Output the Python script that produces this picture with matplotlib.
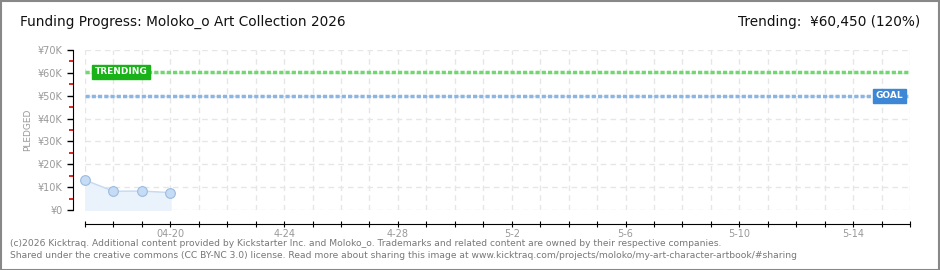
import matplotlib
matplotlib.use("Agg")
import matplotlib.pyplot as plt
import numpy as np
import datetime as dt
from matplotlib.patches import Rectangle

plt.rcParams['font.family'] = ['DejaVu Sans']

dates = ["2026-04-17", "2026-04-18", "2026-04-19", "2026-04-20"]
pledged = [13100, 8200, 8300, 7600]
goal = 50000
trending = 60450
x_start = "2026-04-17"
x_end = "2026-05-16"
tick_label_dates = ["2026-04-20", "2026-04-24", "2026-04-28", "2026-05-02", "2026-05-06", "2026-05-10", "2026-05-14"]
tick_label_text = ["04-20", "4-24", "4-28", "5-2", "5-6", "5-10", "5-14"]
y_ticks = [0, 10000, 20000, 30000, 40000, 50000, 60000, 70000]
y_labels = ["¥0", "¥10K", "¥20K", "¥30K", "¥40K", "¥50K", "¥60K", "¥70K"]
y_minor = [5000, 15000, 25000, 35000, 45000, 55000, 65000]

W, H = 940, 270
fig = plt.figure(figsize=(W/100, H/100), dpi=100)
fig.patch.set_facecolor("white")
fig.add_artist(Rectangle((0.5/W, 0.5/H), 1-1.5/W, 1-1.5/H, transform=fig.transFigure,
                         fill=False, edgecolor="#888888", lw=1.5))

ax = fig.add_axes([85/W, 1-210/H, (910-85)/W, 160/H])
d = [dt.datetime.fromisoformat(s) for s in dates]
xs, xe = dt.datetime.fromisoformat(x_start), dt.datetime.fromisoformat(x_end)
ax.set_xlim(xs, xe)
ax.set_ylim(0, 70000)

all_days = [xs + dt.timedelta(days=i) for i in range((xe - xs).days + 1)]
for day in all_days:
    ax.axvline(day, color="#e6e6e6", lw=1, ls=(0, (4, 3)), zorder=0)
for yv in y_ticks:
    ax.axhline(yv, color="#e6e6e6", lw=1, ls=(0, (4, 3)), zorder=0)

ax.fill_between(d, pledged, 0, color="#eaf2fc", zorder=1)
ax.plot(d, pledged, color="#c5d9f1", lw=1, zorder=2)
ax.plot(d, pledged, "o", ms=7, mfc="#c6dcf5", mec="#9bbbe0", mew=0.8, zorder=3, clip_on=False)

ax.plot([xs, xe], [goal, goal], color="#8ab6e6", lw=2.5, ls=(0, (1.2, 0.6)), zorder=2)
ax.plot([xs, xe], [trending, trending], color="#6fd86f", lw=2.5, ls=(0, (1.2, 0.6)), zorder=2)

ax.text(xs + dt.timedelta(days=0.35), trending, "TRENDING", fontsize=6.5, color="white",
        va="center", ha="left", fontweight="bold", zorder=5,
        bbox=dict(boxstyle="square,pad=0.3", fc="#19b319", ec="#19b319"))
ax.text(xe - dt.timedelta(days=0.25), goal, "GOAL", fontsize=6.5, color="white",
        va="center", ha="right", fontweight="bold", zorder=5,
        bbox=dict(boxstyle="square,pad=0.3", fc="#3d87d6", ec="#3d87d6"))

for s in ["top", "right"]:
    ax.spines[s].set_visible(False)
ax.spines["left"].set_position(("outward", 9))
ax.spines["bottom"].set_position(("outward", 10))

ax.set_yticks(y_ticks)
ax.set_yticklabels(y_labels, fontsize=7, color="#999999")
ax.set_yticks(y_minor, minor=True)
ax.tick_params(axis="y", which="major", length=4, width=1, direction="out", color="black", pad=3)
ax.tick_params(axis="y", which="minor", length=3, width=1.2, direction="out", color="#dd0000")

ax.set_xticks(all_days)
lab = dict(zip([dt.datetime.fromisoformat(s) for s in tick_label_dates], tick_label_text))
ax.set_xticklabels([lab.get(day, "") for day in all_days], fontsize=7, color="#999999")
ax.tick_params(axis="x", which="major", length=4, direction="inout", color="black", pad=2)

ax.set_ylabel("PLEDGED", fontsize=6.5, color="#999999", labelpad=4)

fig.text(20/W, 1-22/H, "Funding Progress: Moloko_o Art Collection 2026", fontsize=9.8,
         color="#111111", va="center", ha="left")
fig.text(920/W, 1-22/H, "Trending:  ¥60,450 (120%)", fontsize=9.8,
         color="#111111", va="center", ha="right")

fig.text(10/W, 1-243/H, "(c)2026 Kicktraq. Additional content provided by Kickstarter Inc. and Moloko_o. Trademarks and related content are owned by their respective companies.",
         fontsize=6.6, color="#777777", va="center", ha="left")
fig.text(10/W, 1-256/H, "Shared under the creative commons (CC BY-NC 3.0) license. Read more about sharing this image at www.kicktraq.com/projects/moloko/my-art-character-artbook/#sharing",
         fontsize=6.6, color="#777777", va="center", ha="left")

fig.savefig("out.png", dpi=100, facecolor="white")
